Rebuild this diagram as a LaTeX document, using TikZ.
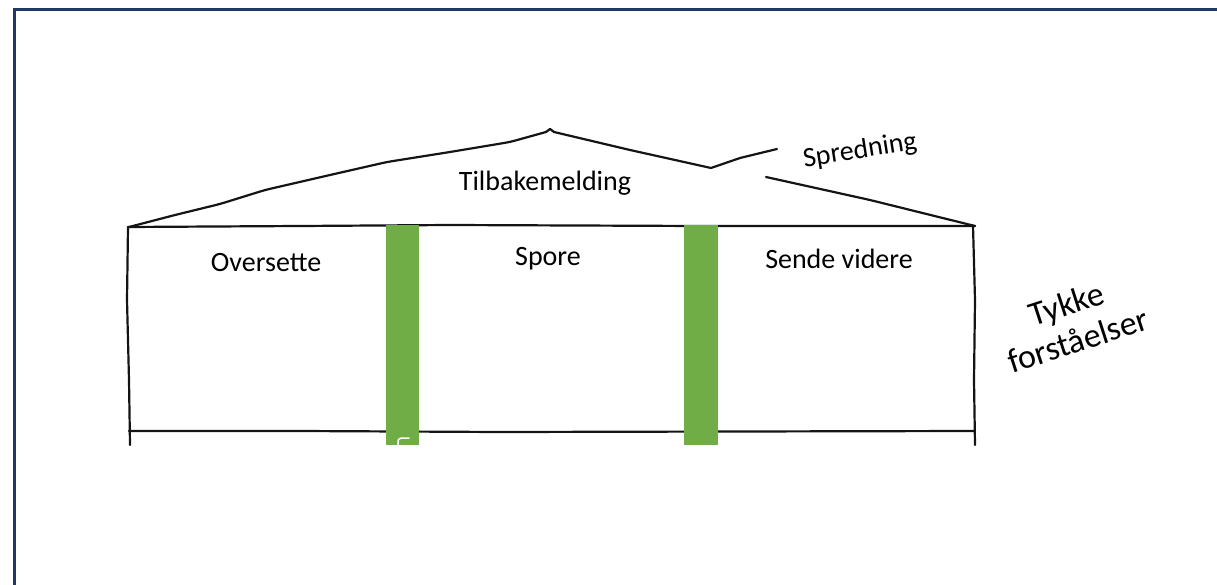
\documentclass[tikz,border=0pt]{standalone}
\usepackage{fontspec}
\setmainfont{Carlito}
\definecolor{framec}{HTML}{203864}
\definecolor{barc}{HTML}{70AD47}
\begin{document}
\begin{tikzpicture}[x=1pt,y=-1pt,
  sketch/.style={line width=2.2pt, black!92, line join=round, line cap=round, rounded corners=6pt},
  lbl/.style={font=\fontsize{28}{32}\selectfont, inner sep=0pt},
  bigl/.style={font=\fontsize{34}{38}\selectfont, inner sep=0pt, align=center},
  bar/.style={fill=barc, draw=none}]
\useasboundingbox (0,0) rectangle (1217,585);
% frame
\draw[framec, line width=3pt] (14,585) -- (14,10) -- (1217,10);
% roof
\draw[sketch] (129,227) -- (175,215) -- (220,204) -- (265,190) -- (330,175) -- (387,162) -- (450,152) -- (510,142) -- (546,132);
\draw[sketch, rounded corners=0pt] (546,132) -- (550,129) -- (554,132) -- (630,150) -- (711,168) -- (740,158) -- (777,149);
\draw[sketch] (766,177) -- (870,200) -- (975,226);
% box
\draw[sketch] (128,227) -- (300,226) -- (450,225) -- (700,226) -- (975,226);
\draw[sketch] (128,227) -- (127,300) -- (129,380) -- (130,445);
\draw[sketch] (973,226) -- (975,300) -- (974,380) -- (975,445);
\draw[sketch] (129,431) -- (300,431) -- (500,432) -- (975,431);
% green pillars
\path[bar] (386,225) rectangle (419,445);
\path[bar] (684,225) rectangle (718,445);
\draw[white, line width=1.5pt, line cap=round] (409,438) -- (401,438) .. controls (398,439) .. (398,445);
% texts
\node[lbl] (tilbake) at (545,183) {Tilbakemelding};
\node[lbl] (over) at (266,263) {Oversette};
\node[lbl] (spore) at (548,259) {Spore};
\node[lbl] (sende) at (839,259) {Sende videre};
\node[lbl, rotate=9] (spred) at (860,151) {Spredning};
\node[bigl, rotate=18] (tykke) at (1072,322) {Tykke\\forståelser};
\end{tikzpicture}
\end{document}
